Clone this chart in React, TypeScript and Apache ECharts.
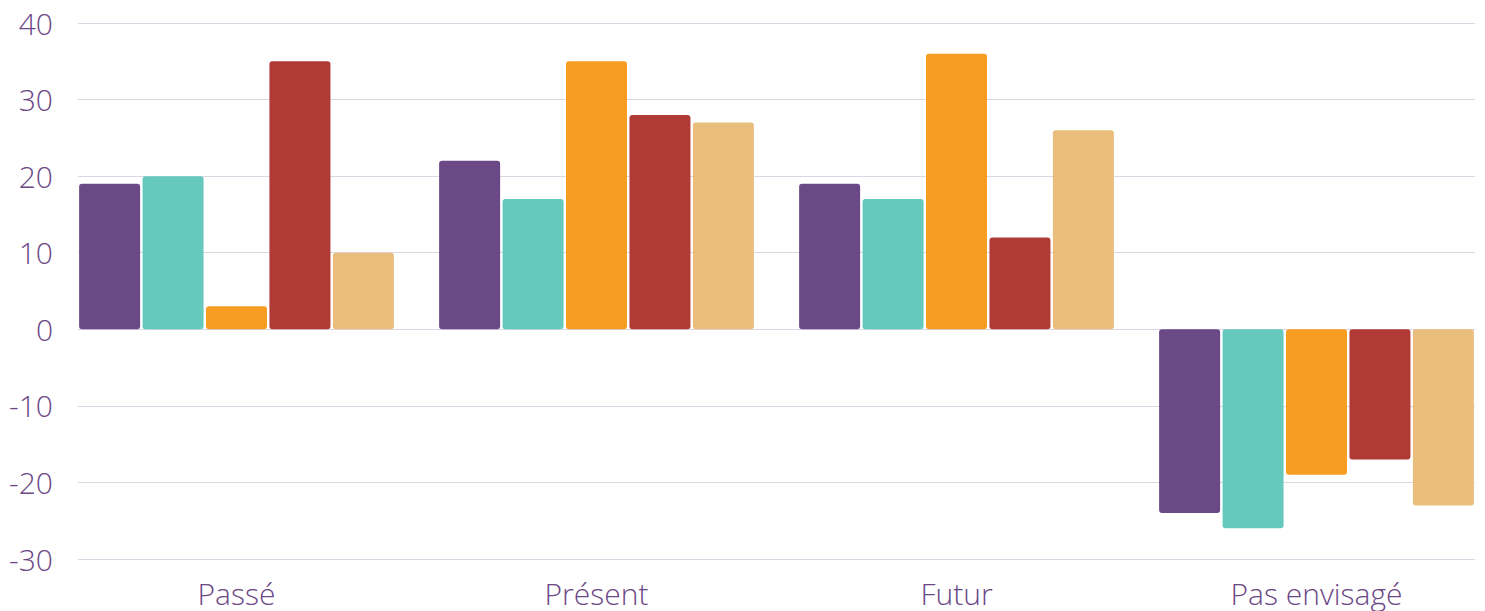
import React, { useEffect, useRef } from "react";
import * as echarts from "echarts";

const categories = ["Passé", "Présent", "Futur", "Pas envisagé"];
const seriesA = [19, 22, 19, -24];
const seriesB = [20, 17, 17, -26];
const seriesC = [3, 35, 36, -19];
const seriesD = [35, 28, 12, -17];
const seriesE = [10, 27, 26, -23];
const colors = ["#6b4886", "#66c9bd", "#f79d22", "#b03a36", "#e9bd7c"];
const yTicks = { min: -30, max: 40, interval: 10 };

export default function App() {
  const ref = useRef<HTMLDivElement>(null);
  useEffect(() => {
    document.body.style.margin = "0";
    const chart = echarts.init(ref.current!, null, { renderer: "svg" });
    const font = "'Open Sans', sans-serif";
    const all = [seriesA, seriesB, seriesC, seriesD, seriesE];
    chart.setOption({
      animation: false,
      grid: [
        { left: 78, right: 10, top: 23, bottom: 52, outerBoundsMode: "none" },
        { left: 56.5, width: 1440, top: 23, bottom: 52, outerBoundsMode: "none" },
      ],
      xAxis: [
        { gridIndex: 0, type: "value", show: false, min: 0, max: 1 },
        {
          gridIndex: 1,
          type: "category",
          data: categories,
          axisLine: { show: false },
          axisTick: { show: false },
          axisLabel: {
            color: "#6b4886",
            fontFamily: font,
            fontWeight: 300,
            fontSize: 30,
            margin: 19,
          },
        },
      ],
      yAxis: [
        {
          gridIndex: 0,
          type: "value",
          min: yTicks.min,
          max: yTicks.max,
          interval: yTicks.interval,
          axisLine: { show: false },
          axisTick: { show: false },
          splitLine: { lineStyle: { color: "#dcd5e4", width: 1 } },
          axisLabel: {
            color: "#6b4886",
            fontFamily: font,
            fontWeight: 300,
            fontSize: 30,
            margin: 25,
          },
        },
        {
          gridIndex: 1,
          type: "value",
          min: yTicks.min,
          max: yTicks.max,
          interval: yTicks.interval,
          show: false,
        },
      ],
      series: all.map((d, i) => ({
        type: "bar",
        xAxisIndex: 1,
        yAxisIndex: 1,
        data: d,
        barWidth: 61,
        barGap: "4%",
        itemStyle: { color: colors[i], borderRadius: 3 },
      })),
    });
    return () => chart.dispose();
  }, []);
  return <div ref={ref} style={{ width: 1485, height: 611 }} />;
}
